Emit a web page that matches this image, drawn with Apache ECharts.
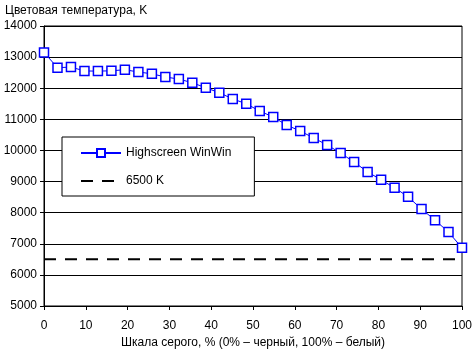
<!DOCTYPE html>
<html>
<head>
<meta charset="utf-8">
<script src="https://cdn.jsdelivr.net/npm/echarts@6/dist/echarts.min.js"></script>
<style>
  html, body { margin: 0; padding: 0; background: #fff; }
  #chart { width: 472px; height: 349px; }
</style>
</head>
<body>
<div id="chart"></div>
<script>
// Grey level steps, % (32 measurements from black to white)
const grayLevels = [
  0, 3.23, 6.45, 9.68, 12.9, 16.13, 19.35, 22.58, 25.81, 29.03, 32.26,
  35.48, 38.71, 41.94, 45.16, 48.39, 51.61, 54.84, 58.06, 61.29, 64.52,
  67.74, 70.97, 74.19, 77.42, 80.65, 83.87, 87.1, 90.32, 93.55, 96.77, 100
];
// Measured colour temperature, K
const colorTemp = [
  13150, 12660, 12680, 12555, 12550, 12560, 12595, 12520, 12465, 12360, 12295,
  12175, 12015, 11855, 11655, 11500, 11265, 11075, 10815, 10625, 10400,
  10175, 9915, 9625, 9310, 9055, 8800, 8510, 8115, 7760, 7375, 6870
];
// Reference white point
const refTemp = 6500;
const refRange = [0, 100];

const seriesName = 'Highscreen WinWin';
const refName = '6500 K';

const font = 'Arial, "Liberation Sans", sans-serif';
const clear = 'rgba(0,0,0,0)';

const chart = echarts.init(document.getElementById('chart'), null, { renderer: 'canvas' });
chart.setOption({
  animation: false,
  backgroundColor: '#fff',
  textStyle: { fontFamily: font, color: '#000' },
  title: {
    text: 'Цветовая температура, K',
    left: 0, top: 0,
    textStyle: { fontFamily: font, fontSize: 12, fontWeight: 'normal', color: '#000' }
  },
  grid: {
    left: 44, right: 10, top: 26, bottom: 43,
    outerBoundsMode: 'none',
    containLabel: false,
    show: true, borderColor: '#000', borderWidth: 1, backgroundColor: 'transparent'
  },
  legend: {
    orient: 'vertical',
    left: 62, top: 137,
    padding: [10, 23, 9, 18],
    itemGap: 16,
    itemWidth: 40, itemHeight: 10,
    borderColor: '#000', borderWidth: 1, backgroundColor: '#fff',
    textStyle: { fontFamily: font, fontSize: 12, color: '#000' },
    data: [
      seriesName,
      { name: refName, itemStyle: { color: clear, borderColor: clear, borderWidth: 0 } }
    ]
  },
  xAxis: {
    type: 'value',
    min: 0, max: 100, interval: 10,
    name: 'Шкала серого, % (0% – черный, 100% – белый)',
    nameLocation: 'middle', nameGap: 30,
    nameTextStyle: { fontFamily: font, fontSize: 12, color: '#000' },
    axisLine: { lineStyle: { color: '#000', width: 1 } },
    axisTick: { show: true, length: 4, lineStyle: { color: '#000' } },
    axisLabel: { fontFamily: font, fontSize: 12, color: '#000', margin: 14 },
    splitLine: { show: false }
  },
  yAxis: {
    type: 'value',
    min: 5000, max: 14000, interval: 1000,
    axisLine: { show: true, lineStyle: { color: '#000', width: 1 } },
    axisTick: { show: true, length: 4, lineStyle: { color: '#000' } },
    axisLabel: { fontFamily: font, fontSize: 12, color: '#000', margin: 7, formatter: v => String(v) },
    splitLine: { show: true, lineStyle: { color: '#000', width: 1 } }
  },
  series: [
    {
      name: seriesName,
      type: 'line',
      data: grayLevels.map((x, i) => [x, colorTemp[i]]),
      symbol: 'rect',
      symbolSize: 9,
      itemStyle: { color: '#fff', borderColor: '#0000ff', borderWidth: 1.5 },
      lineStyle: { color: '#0000ff', width: 1 },
      z: 3
    },
    {
      name: refName,
      type: 'line',
      data: refRange.map(x => [x, refTemp]),
      symbol: 'none',
      lineStyle: { color: '#000', width: 2, type: [12, 9] },
      itemStyle: { color: '#000' },
      z: 2
    }
  ]
});
</script>
</body>
</html>
